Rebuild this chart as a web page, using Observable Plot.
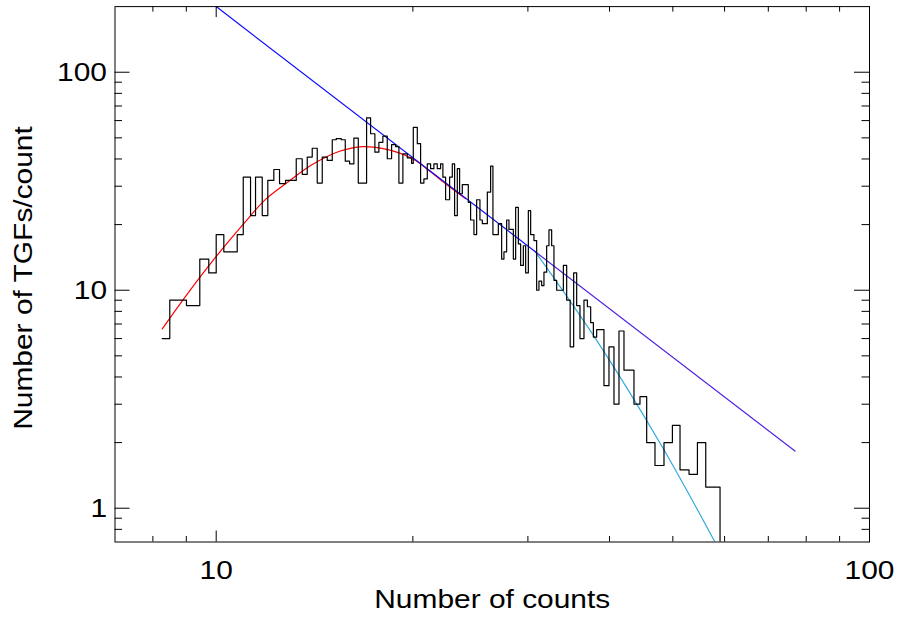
<!DOCTYPE html>
<html><head><meta charset="utf-8">
<script src="https://cdn.jsdelivr.net/npm/d3@7"></script>
<script src="https://cdn.jsdelivr.net/npm/@observablehq/plot@0.6"></script>
<style>body{margin:0;background:#fff}</style>
</head><body>
<script>
// Histogram: bin edges (counts) and heights (TGFs/count)
const binEdges = [8.267, 8.491, 9.005, 9.438, 9.742, 10.0, 10.272, 10.769, 11.0, 11.287,
  11.487, 11.762, 11.995, 12.252, 12.501, 12.768, 13.259, 13.542, 13.783, 14.028,
  14.278, 14.532, 14.791, 15.054, 15.268, 15.540, 15.760, 16.001, 16.246, 16.500,
  16.990, 17.231, 17.494, 17.742, 17.994, 18.275, 18.555, 18.818, 19.039, 19.309,
  19.611, 19.911, 20.030, 20.315, 20.553, 20.793, 21.043, 21.290, 21.539, 21.798,
  22.053, 22.233, 22.446, 22.765, 22.983, 23.170, 23.392, 23.582, 23.807, 24.316,
  24.514, 24.804, 25.041, 25.334, 25.549, 26.003, 26.307, 26.521, 27.031, 27.348,
  27.570, 27.834, 28.061, 28.500, 28.732, 29.007, 29.243, 29.523, 29.763, 30.047,
  30.292, 30.647, 30.940, 31.192, 31.490, 31.746, 32.050, 32.311, 32.620, 32.886,
  33.200, 33.994, 34.392, 34.819, 35.251, 35.626, 36.043, 36.555, 36.996, 37.429,
  37.787, 38.229, 39.225, 39.923, 40.633, 41.356, 42.091, 43.600, 44.532, 45.597,
  46.951, 48.465, 49.924, 51.282, 52.937, 54.527, 56.148, 59.051];
const binValues = [6.0, 9.0, 8.5, 13.9, 12.0, 18.0, 15.0, 18.0, 33.0, 22.0,
  33.0, 22.0, 31.9, 35.8, 30.8, 31.9, 40.1, 34.0, 40.8, 44.8,
  31.0, 40.8, 39.4, 49.0, 49.6, 49.0, 39.1, 38.0, 49.9, 31.0,
  61.8, 52.2, 43.0, 47.7, 50.9, 40.1, 46.5, 45.6, 31.0, 42.2,
  40.5, 38.2, 55.9, 47.0, 31.0, 32.4, 38.0, 36.1, 38.0, 36.1,
  38.0, 33.0, 26.0, 33.0, 38.0, 22.0, 36.1, 27.7, 30.5, 25.3,
  21.0, 18.0, 26.0, 21.0, 20.2, 28.2, 37.1, 18.0, 20.2, 13.9,
  15.0, 21.0, 19.0, 13.9, 24.0, 16.3, 13.0, 16.0, 12.0, 23.2,
  18.0, 16.9, 10.0, 11.0, 10.5, 12.1, 16.0, 18.9, 16.0, 11.1,
  10.0, 13.0, 9.0, 5.5, 12.0, 8.5, 6.0, 9.0, 8.4, 7.1,
  6.1, 6.6, 3.65, 5.5, 3.0, 6.5, 4.3, 3.0, 3.25, 2.0,
  1.57, 2.0, 2.4, 1.5, 1.43, 2.0, 1.25];

// Fitted curves
const redX = [8.27, 8.92, 9.98, 11.02, 11.9, 12.92, 14.03, 15.41, 16.75, 18.38, 19.5, 20.2, 21.17, 22.44, 24.09];
const redY = [6.65, 9.13, 14.17, 20.2, 26.1, 31.6, 37.7, 43.3, 45.6, 44.06, 41.5, 39.35, 35.4, 30.8, 26.3];
const blueX = [10, 30.8];
const blueY = [200, 15.0];
const violetX = [30.8, 76.9];
const violetY = [15.0, 1.83];
const cyanX = [30.8, 38.1, 48.2, 58.0];
const cyanY = [15.0, 5.98, 1.905, 0.7];

// Axes
const xDomain = [7, 100];
const yDomain = [0.7, 200];
const xMajor = [10, 100];
const xMinor = [8, 9, 20, 30, 40, 50, 60, 70, 80, 90];
const yMajor = [1, 10, 100];
const yMinor = [0.8, 0.9, 2, 3, 4, 5, 6, 7, 8, 9, 20, 30, 40, 50, 60, 70, 80, 90];
const xTitle = "Number of counts";
const yTitle = "Number of TGFs/count";

const W = 897, H = 619;
const mL = 114.5, mR = 28, mT = 6.1, mB = 77.5;
const innerW = W - mL - mR, innerH = H - mT - mB;
const FS = 26;

const histPts = [];
binValues.forEach((v, i) => {
  histPts.push({x: binEdges[i], y: v});
  histPts.push({x: binEdges[i + 1], y: v});
});
histPts.push({x: binEdges[binEdges.length - 1], y: yDomain[0]});

const pts = (xs, ys) => xs.map((x, i) => ({x, y: ys[i]}));

const chart = Plot.plot({
  width: W, height: H,
  marginLeft: mL, marginRight: mR, marginTop: mT, marginBottom: mB,
  style: {fontFamily: "'Liberation Sans', Arial, Helvetica, sans-serif", fontSize: FS + "px", background: "#fff"},
  x: {type: "log", domain: xDomain},
  y: {type: "log", domain: yDomain},
  marks: [
    Plot.line(pts(redX, redY), {x: "x", y: "y", stroke: "#ff0000", strokeWidth: 1.2, curve: "catmull-rom", clip: true}),
    Plot.line(pts(cyanX, cyanY), {x: "x", y: "y", stroke: "#33aadd", strokeWidth: 1.2, curve: "catmull-rom", clip: true}),
    Plot.line(pts(violetX, violetY), {x: "x", y: "y", stroke: "#5020e0", strokeWidth: 1.2, clip: true}),
    Plot.line(pts(blueX, blueY), {x: "x", y: "y", stroke: "#1010ff", strokeWidth: 1.2, clip: true}),
    Plot.line(histPts, {x: "x", y: "y", stroke: "#000", strokeWidth: 1.2, clip: true}),
    // inward ticks on all four sides
    Plot.tickX(xMajor, {x: d => d, insetTop: innerH - 11, stroke: "#000"}),
    Plot.tickX(xMajor, {x: d => d, insetBottom: innerH - 11, stroke: "#000"}),
    Plot.tickX(xMinor, {x: d => d, insetTop: innerH - 5.5, stroke: "#000"}),
    Plot.tickX(xMinor, {x: d => d, insetBottom: innerH - 5.5, stroke: "#000"}),
    Plot.tickY(yMajor, {y: d => d, insetRight: innerW - 15, stroke: "#000"}),
    Plot.tickY(yMajor, {y: d => d, insetLeft: innerW - 15, stroke: "#000"}),
    Plot.tickY(yMinor, {y: d => d, insetRight: innerW - 7.5, stroke: "#000"}),
    Plot.tickY(yMinor, {y: d => d, insetLeft: innerW - 7.5, stroke: "#000"}),
    Plot.frame({stroke: "#000"}),
    Plot.axisX({ticks: xMajor, tickSize: 0, tickPadding: 18.5, fontSize: FS, label: null, tickFormat: d => String(d), fill: "#000"}),
    Plot.axisY({ticks: yMajor, tickSize: 0, tickPadding: 8, fontSize: FS, label: null, tickFormat: d => String(d), fill: "#000"}),
    Plot.text([xTitle], {text: d => d, frameAnchor: "bottom", textAnchor: "middle", lineAnchor: "top", dy: 47.8, fontSize: FS, fill: "#000"}),
    Plot.text([yTitle], {text: d => d, frameAnchor: "left", textAnchor: "middle", lineAnchor: "top", rotate: -90, dx: -101.2, dy: 3.7, fontSize: FS, fill: "#000"})
  ]
});
document.body.append(chart);
// the original lettering is a wider Helvetica: stretch glyphs horizontally
chart.querySelectorAll("text").forEach(t => {
  const L = t.getComputedTextLength();
  if (L > 0) {
    t.setAttribute("textLength", (L * 1.15).toFixed(2));
    t.setAttribute("lengthAdjust", "spacingAndGlyphs");
  }
});
</script>
</body></html>
